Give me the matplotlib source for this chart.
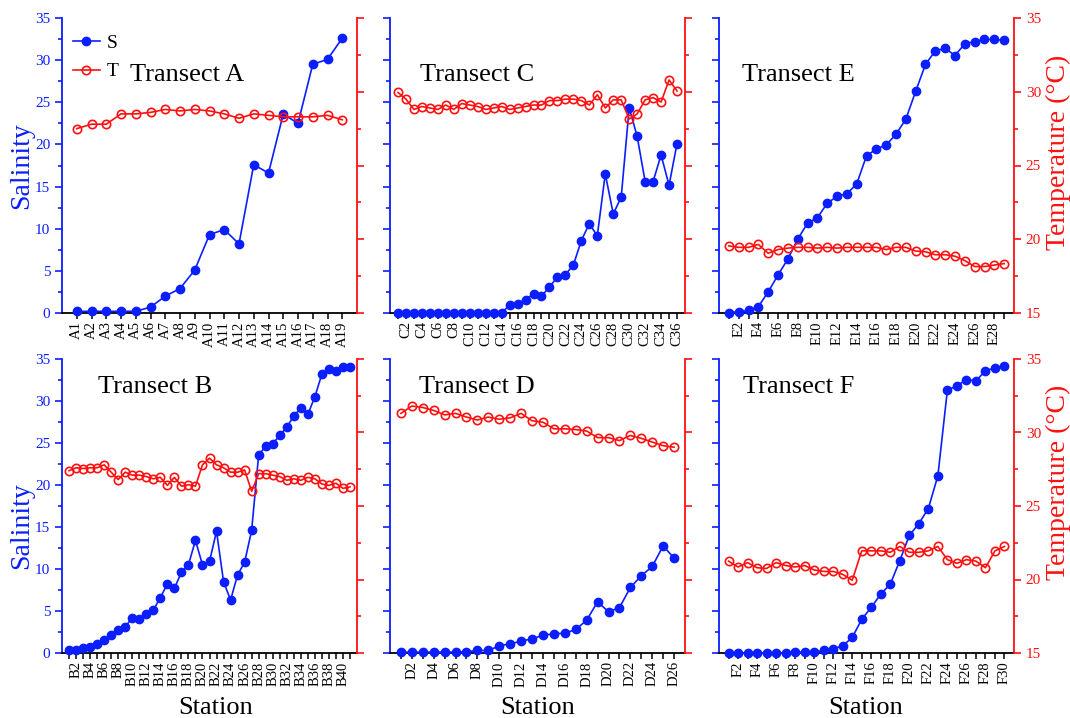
import matplotlib
matplotlib.use('Agg')
import matplotlib.pyplot as plt
from matplotlib.ticker import MultipleLocator

plt.rcParams['font.family'] = ['Liberation Serif', 'DejaVu Serif']

# ---------------- data ----------------
A_S = [0.2, 0.2, 0.2, 0.2, 0.2, 0.7, 2.0, 2.9, 5.1, 9.3, 9.9, 8.2, 17.6, 16.6, 23.6, 22.5, 29.5, 30.1, 32.6]
A_T = [27.5, 27.8, 27.8, 28.5, 28.5, 28.6, 28.8, 28.7, 28.8, 28.7, 28.5, 28.2, 28.5, 28.4, 28.3, 28.3, 28.3, 28.4, 28.1]

B_S = [0.3, 0.4, 0.6, 0.7, 1.1, 1.6, 2.2, 2.7, 3.1, 4.2, 4.1, 4.6, 5.1, 6.6, 8.2, 7.7, 9.6, 10.5, 13.4, 10.5,
       10.9, 14.5, 8.5, 6.3, 9.3, 10.8, 14.6, 23.6, 24.6, 24.9, 25.9, 26.9, 28.2, 29.2, 28.4, 30.5, 33.2, 33.8,
       33.6, 34.1, 34.1]
B_T = [27.4, 27.6, 27.55, 27.6, 27.6, 27.8, 27.3, 26.8, 27.3, 27.1, 27.1, 27.0, 26.85, 26.95, 26.4, 26.95, 26.35,
       26.45, 26.35, 27.8, 28.25, 27.8, 27.6, 27.3, 27.3, 27.45, 26.0, 27.2, 27.2, 27.1, 27.0, 26.75, 26.85, 26.75,
       26.95, 26.85, 26.5, 26.4, 26.55, 26.2, 26.3]

C_S = [0.0, 0.0, 0.0, 0.0, 0.0, 0.0, 0.0, 0.0, 0.0, 0.0, 0.0, 0.0, 0.0, 0.0, 0.95, 1.1, 1.6, 2.25, 2.0, 3.1,
       4.25, 4.55, 5.7, 8.6, 10.6, 9.15, 16.5, 11.75, 13.75, 24.35, 20.95, 15.6, 15.6, 18.75, 15.15, 20.1]
C_T = [29.95, 29.5, 28.8, 29.0, 28.9, 28.8, 29.1, 28.8, 29.2, 29.1, 29.0, 28.8, 28.9, 29.0, 28.8, 28.9, 29.0,
       29.1, 29.1, 29.4, 29.4, 29.5, 29.5, 29.4, 29.1, 29.8, 28.9, 29.45, 29.45, 28.15, 28.5, 29.45, 29.6, 29.3,
       30.8, 30.05]

D_S = [0.1, 0.1, 0.1, 0.1, 0.1, 0.1, 0.15, 0.3, 0.3, 0.85, 1.1, 1.4, 1.7, 2.1, 2.3, 2.35, 2.8, 3.9, 6.1, 4.9,
       5.4, 7.8, 9.2, 10.3, 12.75, 11.3]
D_T = [31.3, 31.8, 31.7, 31.5, 31.2, 31.3, 31.05, 30.85, 31.05, 30.9, 31.0, 31.3, 30.8, 30.7, 30.25, 30.25, 30.2,
       30.1, 29.65, 29.65, 29.45, 29.8, 29.6, 29.35, 29.1, 29.0]

E_S = [0.05, 0.15, 0.3, 0.75, 2.5, 4.5, 6.4, 8.75, 10.65, 11.3, 13.0, 13.85, 14.15, 15.3, 18.65, 19.45, 19.95,
       21.2, 23.0, 26.3, 29.5, 31.1, 31.4, 30.55, 31.95, 32.2, 32.45, 32.45, 32.35]
E_T = [19.55, 19.45, 19.45, 19.65, 19.05, 19.3, 19.4, 19.45, 19.45, 19.4, 19.45, 19.4, 19.45, 19.45, 19.45, 19.45,
       19.3, 19.45, 19.45, 19.2, 19.15, 18.95, 18.95, 18.85, 18.55, 18.15, 18.15, 18.25, 18.35]

F_S = [0.0, 0.0, 0.0, 0.0, 0.0, 0.0, 0.0, 0.1, 0.1, 0.1, 0.3, 0.5, 0.85, 1.85, 4.0, 5.45, 7.0, 8.2, 11.0, 14.0,
       15.4, 17.2, 21.1, 31.3, 31.8, 32.55, 32.4, 33.6, 33.95, 34.2]
F_T = [21.25, 20.85, 21.15, 20.8, 20.75, 21.15, 20.95, 20.85, 20.95, 20.65, 20.55, 20.55, 20.35, 19.95, 21.95,
       21.95, 21.95, 21.85, 22.25, 21.85, 21.85, 21.95, 22.25, 21.35, 21.1, 21.35, 21.25, 20.8, 21.95, 22.25]

STATIONS_A = ['A%d' % i for i in range(1, len(A_S) + 1)]
STATIONS_B = ['B%d' % i for i in range(1, len(B_S) + 1)]
STATIONS_C = ['C%d' % i for i in range(1, len(C_S) + 1)]
STATIONS_D = ['D%d' % i for i in range(1, len(D_S) + 1)]
STATIONS_E = ['E%d' % i for i in range(1, len(E_S) + 1)]
STATIONS_F = ['F%d' % i for i in range(1, len(F_S) + 1)]

TITLES = ['Transect A', 'Transect C', 'Transect E', 'Transect B', 'Transect D', 'Transect F']

# ---------------- style ----------------
BLUE = '#0a1eff'
RED = '#ff1010'
W, H = 1070, 718

fig = plt.figure(figsize=(W / 100, H / 100), dpi=100)

panels = [
    (STATIONS_A, A_S, A_T, TITLES[0], 62, 18, 313, 1, (0.231, 0.786), 0, 0),
    (STATIONS_C, C_S, C_T, TITLES[1], 390, 18, 313, 2, (0.101, 0.786), 0, 1),
    (STATIONS_E, E_S, E_T, TITLES[2], 719, 18, 313, 2, (0.078, 0.786), 0, 2),
    (STATIONS_B, B_S, B_T, TITLES[3], 62, 359, 653, 2, (0.122, 0.884), 1, 0),
    (STATIONS_D, D_S, D_T, TITLES[4], 390, 359, 653, 2, (0.098, 0.884), 1, 1),
    (STATIONS_F, F_S, F_T, TITLES[5], 719, 359, 653, 2, (0.081, 0.884), 1, 2),
]
station_x = [216, 538, 866]

for stations, S, T, title, lpx, tpx, bpx, every, tpos, row, col in panels:
    ax = fig.add_axes([lpx / W, 1 - bpx / H, 295 / W, (bpx - tpx) / H])
    ax2 = ax.twinx()
    x = list(range(1, len(stations) + 1))
    l1, = ax.plot(x, S, '-o', color=BLUE, ms=6, lw=1.2, clip_on=False, zorder=3)
    l2, = ax2.plot(x, T, '-o', color=RED, ms=6, mfc='none', mew=1.2, lw=1.2, clip_on=False, zorder=3)

    ax.set_xlim(0, len(stations) + 1)
    ax.set_ylim(0, 35)
    ax2.set_ylim(15, 35)

    ax.yaxis.set_major_locator(MultipleLocator(5))
    ax.yaxis.set_minor_locator(MultipleLocator(2.5))
    ax2.yaxis.set_major_locator(MultipleLocator(5))
    ax2.yaxis.set_minor_locator(MultipleLocator(2.5))

    for sp in ['top', 'right']:
        ax.spines[sp].set_visible(False)
    for sp in ['top', 'left', 'bottom']:
        ax2.spines[sp].set_visible(False)
    ax.spines['left'].set_color(BLUE)
    ax.spines['left'].set_linewidth(1.3)
    ax.spines['bottom'].set_color('black')
    ax.spines['bottom'].set_linewidth(1.3)
    ax2.spines['right'].set_color(RED)
    ax2.spines['right'].set_linewidth(1.3)

    ax.tick_params(axis='y', which='both', colors=BLUE, direction='out', width=1.2, labelsize=11)
    ax.tick_params(axis='y', which='major', length=5)
    ax.tick_params(axis='y', which='minor', length=3)
    ax2.tick_params(axis='y', which='both', colors=RED, direction='out', width=1.2, labelsize=11)
    ax2.tick_params(axis='y', which='major', length=5)
    ax2.tick_params(axis='y', which='minor', length=3)

    ax.set_xticks(x)
    labels = [s if (i + 1) % every == 0 else '' for i, s in enumerate(stations)]
    ax.set_xticklabels(labels, rotation=90, fontsize=10.5)
    ax.tick_params(axis='x', direction='out', length=4, width=1.1, colors='black', pad=2)

    if col != 0:
        ax.tick_params(axis='y', labelleft=False)
    if col != 2:
        ax2.tick_params(axis='y', labelright=False)

    ax.text(tpos[0], tpos[1], title, transform=ax.transAxes, fontsize=19,
            ha='left', va='baseline', color='black')

    if row == 0 and col == 0:
        ax2.legend([l1, l2], ['S', 'T'], loc='upper left', frameon=False, fontsize=14,
                   handlelength=1.4, handletextpad=0.35, labelspacing=0.55,
                   bbox_to_anchor=(-0.01, 0.99), borderaxespad=0.3)

    if row == 1:
        fig.text(station_x[col] / W, 1 - 714.5 / H, 'Station', fontsize=19,
                 ha='center', va='baseline')

# axis titles
fig.text(22 / W, 1 - 166 / H, 'Salinity', color=BLUE, fontsize=20, rotation=90, ha='center', va='center')
fig.text(22 / W, 1 - 526 / H, 'Salinity', color=BLUE, fontsize=20, rotation=90, ha='center', va='center')
fig.text(1058 / W, 1 - 152 / H, 'Temperature (\u00b0C)', color=RED, fontsize=20, rotation=90,
         ha='center', va='center')
fig.text(1058 / W, 1 - 482 / H, 'Temperature (\u00b0C)', color=RED, fontsize=20, rotation=90,
         ha='center', va='center')

fig.savefig('out.png', dpi=100)
